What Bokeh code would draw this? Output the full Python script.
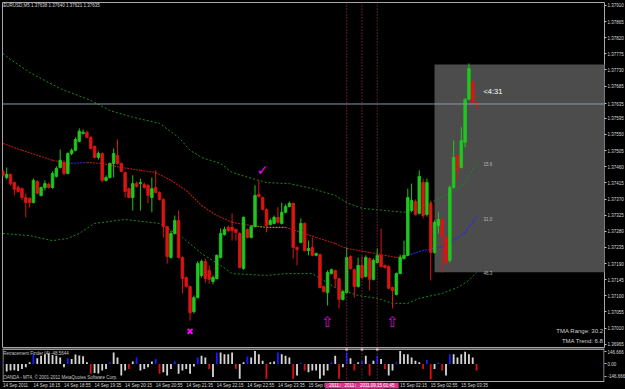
from bokeh.plotting import figure
from bokeh.layouts import column
from bokeh.models import Range1d, FixedTicker, PrintfTickFormatter, Span, Label, ColumnDataSource
from bokeh.core.properties import value
from bokeh.embed import file_html
from bokeh.resources import INLINE

# ---------------- data ----------------
symbol = "EURUSD,M5"
opens = [1.37447, 1.37430, 1.37439, 1.37416, 1.37402, 1.37399, 1.37374, 1.37372, 1.37360, 1.37419,
         1.37380, 1.37402, 1.37411, 1.37402, 1.37433, 1.37458, 1.37472, 1.37441, 1.37497, 1.37506,
         1.37531, 1.37553, 1.37556, 1.37542, 1.37517, 1.37486, 1.37497, 1.37422, 1.37430, 1.37469,
         1.37492, 1.37469, 1.37444, 1.37399, 1.37374, 1.37413, 1.37413, 1.37411, 1.37408, 1.37374,
         1.37402, 1.37388, 1.37369, 1.37293, 1.37207, 1.37274, 1.37310, 1.37207, 1.37151, 1.37126,
         1.37056, 1.37095, 1.37157, 1.37196, 1.37171, 1.37140, 1.37148, 1.37207, 1.37271, 1.37291,
         1.37291, 1.37285, 1.37274, 1.37176, 1.37285, 1.37263, 1.37293, 1.37383, 1.37374, 1.37341,
         1.37299, 1.37302, 1.37319, 1.37302, 1.37333, 1.37349, 1.37358, 1.37235, 1.37249, 1.37302,
         1.37226, 1.37235, 1.37213, 1.37215, 1.37126, 1.37109, 1.37162, 1.37171, 1.37148, 1.37090,
         1.37109, 1.37210, 1.37173, 1.37126, 1.37185, 1.37154, 1.37204, 1.37146, 1.37193, 1.37213,
         1.37185, 1.37182, 1.37123, 1.37104, 1.37162, 1.37204, 1.37213, 1.37338, 1.37363, 1.37330,
         1.37416, 1.37327, 1.37358, 1.37221, 1.37296, 1.37313, 1.37263, 1.37199, 1.37402, 1.37492,
         1.37458, 1.37528, 1.37648, 1.37695, 1.37638]
highs = [1.37453, 1.37458, 1.37441, 1.37419, 1.37408, 1.37402, 1.37386, 1.37374, 1.37427, 1.37422,
         1.37405, 1.37422, 1.37416, 1.37447, 1.37461, 1.37508, 1.37478, 1.37500, 1.37511, 1.37542,
         1.37567, 1.37564, 1.37561, 1.37545, 1.37519, 1.37503, 1.37500, 1.37436, 1.37472, 1.37511,
         1.37536, 1.37472, 1.37447, 1.37402, 1.37436, 1.37419, 1.37427, 1.37416, 1.37411, 1.37430,
         1.37450, 1.37391, 1.37372, 1.37296, 1.37282, 1.37324, 1.37338, 1.37210, 1.37154, 1.37129,
         1.37101, 1.37196, 1.37201, 1.37204, 1.37185, 1.37157, 1.37215, 1.37288, 1.37293, 1.37296,
         1.37330, 1.37288, 1.37277, 1.37321, 1.37288, 1.37296, 1.37408, 1.37422, 1.37377, 1.37344,
         1.37316, 1.37324, 1.37347, 1.37360, 1.37355, 1.37363, 1.37360, 1.37238, 1.37316, 1.37305,
         1.37254, 1.37263, 1.37221, 1.37218, 1.37129, 1.37171, 1.37176, 1.37173, 1.37151, 1.37115,
         1.37235, 1.37213, 1.37176, 1.37207, 1.37210, 1.37213, 1.37207, 1.37204, 1.37232, 1.37288,
         1.37187, 1.37185, 1.37126, 1.37165, 1.37215, 1.37254, 1.37399, 1.37413, 1.37369, 1.37450,
         1.37427, 1.37427, 1.37366, 1.37310, 1.37333, 1.37316, 1.37266, 1.37408, 1.37533, 1.37494,
         1.37570, 1.37651, 1.37748, 1.37701, 1.37640]
lows = [1.37430, 1.37425, 1.37408, 1.37380, 1.37388, 1.37366, 1.37319, 1.37347, 1.37358, 1.37383,
        1.37377, 1.37394, 1.37399, 1.37399, 1.37430, 1.37455, 1.37436, 1.37439, 1.37492, 1.37503,
        1.37528, 1.37550, 1.37539, 1.37508, 1.37483, 1.37480, 1.37416, 1.37419, 1.37427, 1.37430,
        1.37466, 1.37444, 1.37374, 1.37372, 1.37338, 1.37402, 1.37338, 1.37399, 1.37358, 1.37333,
        1.37386, 1.37366, 1.37263, 1.37190, 1.37204, 1.37271, 1.37204, 1.37107, 1.37123, 1.37031,
        1.37051, 1.37093, 1.37151, 1.37137, 1.37134, 1.37132, 1.37146, 1.37204, 1.37268, 1.37277,
        1.37254, 1.37254, 1.37176, 1.37173, 1.37260, 1.37260, 1.37291, 1.37374, 1.37338, 1.37277,
        1.37296, 1.37299, 1.37302, 1.37299, 1.37330, 1.37347, 1.37204, 1.37185, 1.37246, 1.37224,
        1.37213, 1.37210, 1.37210, 1.37121, 1.37109, 1.37073, 1.37160, 1.37123, 1.37065, 1.37087,
        1.37107, 1.37173, 1.37095, 1.37123, 1.37148, 1.37151, 1.37115, 1.37143, 1.37190, 1.37179,
        1.37176, 1.37118, 1.37065, 1.37101, 1.37160, 1.37201, 1.37210, 1.37333, 1.37324, 1.37327,
        1.37316, 1.37321, 1.37143, 1.37218, 1.37274, 1.37165, 1.37190, 1.37193, 1.37399, 1.37422,
        1.37455, 1.37514, 1.37645, 1.37637, 1.37621]
closes = [1.37436, 1.37439, 1.37413, 1.37397, 1.37391, 1.37374, 1.37360, 1.37360, 1.37422, 1.37386,
          1.37402, 1.37413, 1.37402, 1.37441, 1.37455, 1.37478, 1.37441, 1.37497, 1.37506, 1.37536,
          1.37559, 1.37556, 1.37542, 1.37511, 1.37486, 1.37497, 1.37422, 1.37430, 1.37469, 1.37497,
          1.37469, 1.37447, 1.37391, 1.37374, 1.37413, 1.37405, 1.37416, 1.37402, 1.37380, 1.37399,
          1.37388, 1.37369, 1.37293, 1.37210, 1.37274, 1.37310, 1.37207, 1.37148, 1.37126, 1.37053,
          1.37095, 1.37190, 1.37196, 1.37148, 1.37146, 1.37151, 1.37213, 1.37274, 1.37285, 1.37282,
          1.37282, 1.37277, 1.37179, 1.37319, 1.37263, 1.37293, 1.37380, 1.37377, 1.37341, 1.37296,
          1.37310, 1.37319, 1.37305, 1.37333, 1.37349, 1.37358, 1.37235, 1.37229, 1.37302, 1.37226,
          1.37232, 1.37213, 1.37218, 1.37123, 1.37112, 1.37165, 1.37173, 1.37148, 1.37090, 1.37112,
          1.37207, 1.37176, 1.37126, 1.37185, 1.37151, 1.37207, 1.37146, 1.37199, 1.37213, 1.37182,
          1.37179, 1.37121, 1.37115, 1.37162, 1.37207, 1.37213, 1.37374, 1.37366, 1.37327, 1.37433,
          1.37324, 1.37416, 1.37221, 1.37305, 1.37313, 1.37266, 1.37193, 1.37402, 1.37486, 1.37450,
          1.37533, 1.37648, 1.37734, 1.37639, 1.37635]

# TMA centre line and bands (bar index, price)
center_bars = [0, 5, 13, 17, 22, 26, 31, 36, 40, 44, 48, 52, 56, 60, 65, 69, 74, 78, 82, 87, 90, 96, 100, 103, 106, 109, 116, 121, 124]
center_vals = [1.37525, 1.37506, 1.37478, 1.37469, 1.37472, 1.37469, 1.37458, 1.37450, 1.37444, 1.37422,
               1.37394, 1.37352, 1.37324, 1.37305, 1.37296, 1.37291, 1.37291, 1.37277, 1.37263, 1.37246,
               1.37232, 1.37221, 1.37213, 1.37207, 1.37213, 1.37224, 1.37240, 1.37277, 1.37321]
center_blue = [(17, 22), (106, 124)]
center_olive = [(65, 74)]
upper_bars = [0, 2, 7, 15, 23, 28, 34, 41, 46, 49, 52, 57, 60, 66, 69, 75, 81, 87, 90, 94, 100, 105, 109, 117, 121, 124]
upper_vals = [1.37776, 1.37759, 1.37723, 1.37678, 1.37645, 1.37617, 1.37598, 1.37581, 1.37542, 1.37506,
              1.37486, 1.37469, 1.37444, 1.37425, 1.37416, 1.37413, 1.37399, 1.37380, 1.37360, 1.37344,
              1.37338, 1.37333, 1.37344, 1.37386, 1.37413, 1.37472]
lower_bars = [0, 7, 13, 17, 20, 24, 32, 41, 47, 52, 57, 60, 69, 74, 81, 87, 93, 98, 102, 106, 109, 115, 119, 122, 124]
lower_vals = [1.37274, 1.37268, 1.37254, 1.37260, 1.37274, 1.37302, 1.37313, 1.37302, 1.37263, 1.37218,
              1.37185, 1.37162, 1.37157, 1.37162, 1.37162, 1.37123, 1.37101, 1.37093, 1.37079, 1.37079,
              1.37093, 1.37107, 1.37123, 1.37143, 1.37165]
band_label_texts = ["15.6", "31.0", "46.3"]
band_label_prices = [1.37467, 1.37313, 1.37165]

# Retracement Finder histogram
hist_vals = [25, -90, -80, -75, -85, -60, -40, 20, 120, 70,
             100, 120, 130, 110, 100, 80, -40, 70, 60, 115,
             105, 95, 20, -120, -110, -115, -80, -60, 20, 140,
             80, -140, -80, -60, 30, 80, -80, -60, -40, 30,
             60, -120, -100, -140, -60, 35, -120, -80, -60, -120,
             -30, 80, 100, 80, -60, -160, 140, 140, 120, 120,
             140, -60, -180, 20, 90, 80, 160, 120, 40, -180,
             20, 30, 140, 120, 100, 80, -180, -140, 15, -80,
             -100, -80, -80, -180, -140, -80, 20, 100, -180, -40,
             140, 70, -80, 20, 40, 100, -140, 40, 100, 60,
             -60, -140, -80, 20, 160, 120, 120, 80, 40, 20,
             -60, 50, -190, -60, 15, -80, -140, 120, 120, 80,
             120, 150, 120, 80, -80]
hist_kind = "bwwwwwwwbw" "wwwwwwwbww" "wwwrwwwwbw" "wwwrwbwwww" "brwwwbwwww" \
            "wbwwrwbwww" "wrwwbwwwwr" "wwbwwwrwbr" "wwwwwwbwrw" "bwrwbwrwbw" \
            "rwwbwwwwww" "rbrwbrwbww" "wwwwr"
hist_scale_ticks = [-146.666, 0, 146.666]
hist_scale_labels = ["-146.666", "0.00", "146.666"]
indicator_name = "Retracement Finder (4) -48.5644"
copyright_text = "OANDA - MT4, \u00a9 2001-2011 MetaQuotes Software Corp."

# axes
price_ticks = [1.36965, 1.37010, 1.37055, 1.37100, 1.37145, 1.37190, 1.37235, 1.37280, 1.37325, 1.37370,
               1.37415, 1.37460, 1.37505, 1.37550, 1.37595, 1.37685, 1.37730, 1.37775, 1.37820, 1.37865,
               1.37910]
time_ticks = [0, 8, 16, 24, 32, 40, 48, 56, 64, 72, 80, 88, 96, 104, 112, 120]
time_labels = ["14 Sep 2011", "14 Sep 18:15", "14 Sep 18:55", "14 Sep 19:35", "14 Sep 20:15",
               "14 Sep 20:55", "14 Sep 21:35", "14 Sep 22:15", "14 Sep 22:55", "14 Sep 23:35",
               "15 Sep 00:15", "15 Sep 00:55", "15 Sep 01:35", "15 Sep 02:15", "15 Sep 02:55",
               "15 Sep 03:35"]

# objects
vline_bars = [90, 94, 98]
vline_times = ["2011.09.15 01:05", "2011.09.15 01:25", "2011.09.15 01:45"]
box_left_bar = 113
box_top = 1.37745
box_bottom = 1.37166
cross_bar, cross_price = 49, 1.37001
check_bar, check_price = 68, 1.37450
arrow_bars = [85, 102]
arrow_price = 1.37026
countdown = "<4:31"
countdown_price = 1.37670
tma_range = 30.2
tma_trend = 6.8

# ---------------- styling ----------------
BG = "#000000"
GREEN = "#1ec81e"
RED = "#dc1414"
BORDER = "#a8a8a8"
TXT = "#d8d8d8"
FONT = "Liberation Sans"
PXB = 3.82          # pixels per bar
FW = 602
X0 = -0.1
X1 = X0 + FW / PXB

n = len(closes)
idx = list(range(n))

p = figure(frame_width=FW, frame_height=345, x_range=Range1d(X0, X1), y_range=Range1d(1.36956, 1.37918),
           output_backend="svg", toolbar_location=None, x_axis_location=None, y_axis_location="right",
           min_border_left=2, min_border_top=2, min_border_bottom=1, min_border_right=0,
           background_fill_color=BG, border_fill_color=BG, outline_line_color=BORDER)
p.grid.visible = False
ya = p.yaxis[0]
ya.ticker = FixedTicker(ticks=price_ticks + [closes[-1]])
ya.formatter = PrintfTickFormatter(format="%.5f")
ya.major_label_text_font_size = "4.5px"
ya.major_label_text_font = FONT
ya.major_label_text_color = TXT
ya.major_label_standoff = 1
ya.major_tick_out = 2
ya.major_tick_in = 0
ya.minor_tick_line_color = None
ya.major_tick_line_color = "#c0c0c0"
ya.axis_line_color = None

# gray zone box
p.quad(left=[box_left_bar], right=[X1 + 5], top=[box_top], bottom=[box_bottom],
       fill_color="#4c4c4c", line_color=None)

# bands
p.line(upper_bars, upper_vals, line_color="#1a8a1a", line_dash="2 2", line_width=1)
p.line(lower_bars, lower_vals, line_color="#1a8a1a", line_dash="2 2", line_width=1)

# centre line, coloured per segment
def seg_color(a, b):
    for lo, hi in center_blue:
        if lo <= a and b <= hi:
            return "#2a2ae8"
    for lo, hi in center_olive:
        if lo <= a and b <= hi:
            return "#a08c1a"
    return "#b41818"

p.segment(x0=center_bars[:-1], y0=center_vals[:-1], x1=center_bars[1:], y1=center_vals[1:],
          line_color=[seg_color(a, b) for a, b in zip(center_bars[:-1], center_bars[1:])],
          line_dash="2 1", line_width=1.1)

# candles
up = [c >= o for o, c in zip(opens, closes)]
src = ColumnDataSource(dict(
    x=idx, h=highs, l=lows,
    top=[max(o, c) for o, c in zip(opens, closes)],
    bot=[min(o, c) for o, c in zip(opens, closes)],
    col=[GREEN if u else RED for u in up]))
p.segment(x0="x", y0="l", x1="x", y1="h", source=src, line_color="col", line_width=1)
p.vbar(x="x", width=0.68, top="top", bottom="bot", source=src, fill_color="col", line_color="col", line_width=0.8)

# bid line and vertical lines
p.add_layout(Span(location=closes[-1], dimension="width", line_color="#8898a8", line_width=1))
for b in vline_bars:
    p.add_layout(Span(location=b, dimension="height", line_color="#b0306a", line_dash="1 2", line_width=1))

# markers
p.scatter([cross_bar], [cross_price], marker="x", size=7, line_color="#ff00ff", line_width=2)
p.text([check_bar], [check_price], text=["\u2713"], text_color="#ff00ff", text_font=value("DejaVu Sans"),
       text_font_size="14px", text_align="center", text_baseline="middle")
p.text(arrow_bars, [arrow_price] * len(arrow_bars), text=["\u21e7"] * len(arrow_bars), text_color="#d010d0",
       text_font=value("DejaVu Sans"), text_font_size="15px", text_align="center", text_baseline="middle")

# texts
ohlc = f"{symbol}  {opens[-1]:.5f} {highs[-1]:.5f} {lows[-1]:.5f} {closes[-1]:.5f}"
p.add_layout(Label(x=X0 + 0.2, y=1.37910, text=ohlc, text_color=TXT, text_font=FONT,
                   text_font_size="4.5px", text_baseline="middle"))
p.add_layout(Label(x=125.8, y=countdown_price, text=countdown, text_color="white", text_font=FONT,
                   text_font_size="7.5px", text_baseline="middle"))
for t, pr in zip(band_label_texts, band_label_prices):
    p.add_layout(Label(x=125.8, y=pr, text=t, text_color="#b8b8b8", text_font=FONT,
                       text_font_size="4.5px", text_baseline="middle"))
p.add_layout(Label(x=X1 - 0.3, y=1.37001, text=f"TMA Range: {tma_range}", text_color="#d0d0d0",
                   text_font=FONT, text_font_size="6px", text_align="right", text_baseline="middle"))
p.add_layout(Label(x=X1 - 0.3, y=1.36973, text=f"TMA Trend: {tma_trend}", text_color="#d0d0d0",
                   text_font=FONT, text_font_size="6px", text_align="right", text_baseline="middle"))

# ---------------- sub window (frame also holds the time strip) ----------------
SUB_TOP, SUB_BOT = 189, -311     # value range of the whole 41 px strip
BORDER_Y = -213.5                # bottom border of the indicator window
TIME_Y = -262
s = figure(frame_width=FW, frame_height=41, x_range=p.x_range, y_range=Range1d(SUB_BOT, SUB_TOP),
           output_backend="svg", toolbar_location=None, y_axis_location="right", x_axis_location=None,
           min_border_left=2, min_border_top=0, min_border_bottom=0, min_border_right=0,
           background_fill_color=BG, border_fill_color=BG, outline_line_color=None)
s.grid.visible = False
# window borders
s.segment(x0=[X0, X0 + 0.13, X1 - 0.13, X0], y0=[SUB_TOP - 6, SUB_TOP, SUB_TOP, BORDER_Y],
          x1=[X1, X0 + 0.13, X1 - 0.13, X1], y1=[SUB_TOP - 6, BORDER_Y, BORDER_Y, BORDER_Y],
          line_color=["#c4c4c4", BORDER, BORDER, BORDER], line_width=[1.6, 1, 1, 1])

hcolors = {"w": "#d4d4d4", "r": "#d81010", "b": "#1a1aff"}
s.vbar(x=idx, top=hist_vals, bottom=0, width=0.48, fill_color=[hcolors[k] for k in hist_kind], line_color=None)
s.segment(x0=vline_bars, y0=[BORDER_Y] * 3, x1=vline_bars, y1=[SUB_TOP] * 3,
          line_color="#b0306a", line_dash="1 2", line_width=1)
s.scatter(vline_bars, [SUB_TOP - 10] * 3, marker="square", size=2.5, fill_color="#f0c0e0", line_color=None)

sy = s.yaxis[0]
sy.ticker = FixedTicker(ticks=hist_scale_ticks)
sy.major_label_overrides = dict(zip(hist_scale_ticks, hist_scale_labels))
sy.major_label_text_font_size = "4.5px"
sy.major_label_text_font = FONT
sy.major_label_text_color = TXT
sy.major_label_standoff = 1
sy.major_tick_out = 2
sy.major_tick_in = 0
sy.minor_tick_line_color = None
sy.major_tick_line_color = "#c0c0c0"
sy.axis_line_color = None

# time labels (MT4 draws them starting at the bar)
s.text(x=time_ticks, y=[TIME_Y] * len(time_ticks), text=time_labels, text_color=TXT,
       text_font=value(FONT), text_font_size="4.5px", text_align="left", text_baseline="middle")
# vertical-line time tags on the time strip
HALF = 5.6
for b, t in zip(vline_bars, vline_times):
    s.quad(left=[b - HALF], right=[b + HALF], top=[-228], bottom=[-298], fill_color="#e4308c", line_color=None)
    s.text(x=[b], y=[TIME_Y], text=[t], text_color="white", text_font=value(FONT), text_font_size="4.5px",
           text_align="center", text_baseline="middle")

s.add_layout(Label(x=X0 + 0.2, y=128, text=indicator_name, text_color="#c8c8c8", text_font=FONT,
                   text_font_size="4.5px", text_baseline="middle"))
s.add_layout(Label(x=X0 + 0.2, y=-165, text=copyright_text,
                   text_color="#c8c8c8", text_font=FONT, text_font_size="4.5px", text_baseline="middle"))

layout = column(p, s, spacing=0)
html = file_html(layout, INLINE, title="EURUSD,M5")
html = html.replace("<head>", "<head><style>html,body{margin:0;padding:0;background:#000;}</style>", 1)
open("out.html", "w").write(html)
